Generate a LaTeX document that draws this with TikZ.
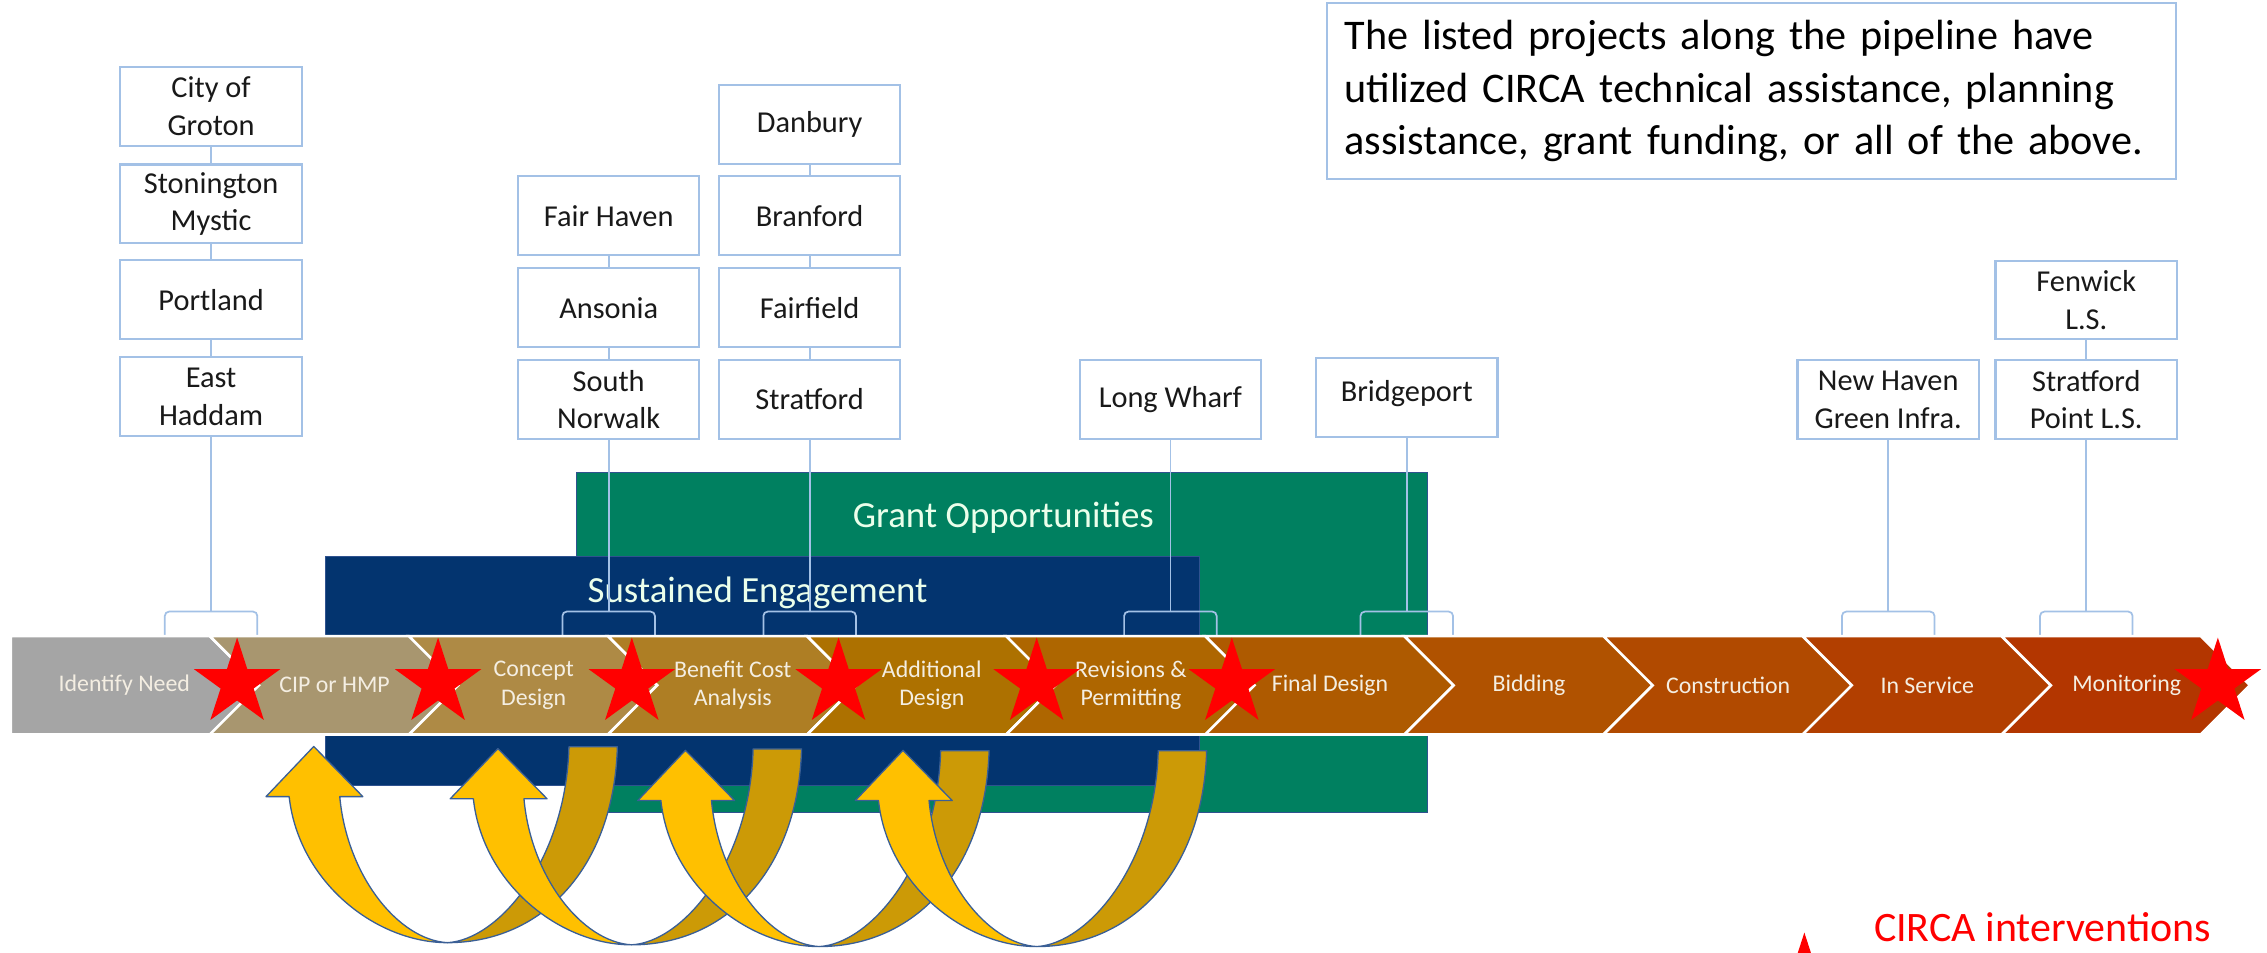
\documentclass[tikz,border=0pt]{standalone}
\usepackage{fontspec}
\setmainfont{Carlito}
\usetikzlibrary{calc}
\definecolor{boxline}{HTML}{A3C1E6}
\definecolor{grantgreen}{HTML}{008060}
\definecolor{navyband}{HTML}{03346F}
\definecolor{shapeline}{HTML}{2F528F}
\definecolor{ygold}{HTML}{FFC000}
\definecolor{dgold}{HTML}{CC9A06}
\definecolor{arrowline}{HTML}{3A5F96}
\definecolor{labelcream}{HTML}{F4EEE2}
\definecolor{starred}{HTML}{FF0000}
\definecolor{ch0}{HTML}{A5A5A5}
\definecolor{ch1}{HTML}{A8966F}
\definecolor{ch2}{HTML}{AE8A45}
\definecolor{ch3}{HTML}{AE7E24}
\definecolor{ch4}{HTML}{AD7100}
\definecolor{ch5}{HTML}{AE6600}
\definecolor{ch6}{HTML}{AE5A00}
\definecolor{ch7}{HTML}{B05200}
\definecolor{ch8}{HTML}{B14A00}
\definecolor{ch9}{HTML}{B23F00}
\definecolor{ch10}{HTML}{B33600}
\newcommand{\uturnarrow}[2]{%
  \begin{scope}[shift={(#1,#2)}]
    \filldraw[arrowedge, fill=dgold] (84,-135.5) -- (117.5,-135.5)
      .. controls (115.2,-52) and (65.5,0) .. (0,0)
      .. controls (35.5,-2) and (82,-57) .. (84,-135.5) -- cycle;
    \filldraw[arrowedge, fill=ygold] (0,0)
      .. controls (-49.5,0) and (-103,-42) .. (-109.5,-101)
      -- (-125.5,-101) -- (-92.5,-135.7) -- (-58.5,-101) -- (-74.5,-101)
      .. controls (-69.6,-47) and (-34.5,-2) .. (0,0) -- cycle;
  \end{scope}}
\begin{document}
\begin{tikzpicture}[x=1pt,y=-1pt,
  city/.style={draw=boxline, line width=1.5pt, fill=white, minimum width=125.5pt,
    minimum height=54.5pt, inner sep=0pt, align=center, text=black!90,
    font=\fontsize{21}{26}\selectfont},
  conn/.style={draw=boxline, line width=1.2pt},
  bracketline/.style={draw=boxline, line width=1.2pt, rounded corners=3pt},
  band/.style={draw=shapeline, line width=0.8pt},
  bandtext/.style={text=white!92!green, font=\fontsize{25.5}{30}\selectfont, inner sep=0pt},
  chevline/.style={draw=white, line width=1.8pt, line join=miter},
  chevtext/.style={text=labelcream, align=center, inner sep=0pt,
    font=\fontsize{16.5}{19.8}\selectfont},
  arrowedge/.style={draw=arrowline, line width=0.9pt, line join=round},
  redstar/.pic={\fill[starred] (270:31.5) -- (306:12) -- (342:31.5) -- (18:12)
    -- (54:31.5) -- (90:12) -- (126:31.5) -- (162:12) -- (198:31.5) -- (234:12) -- cycle;}
  ]
\useasboundingbox (0,0) rectangle (1568,658.5);
\fill[white] (0,0) rectangle (1568,658.5);

% background bands
\filldraw[band, fill=grantgreen] (399,327) rectangle (987.5,562);
\filldraw[band, fill=navyband] (225,385) rectangle (829.6,543.5);
\node[bandtext] (grant) at (694,358) {Grant Opportunities};
\node[bandtext] (sust) at (524,410) {Sustained Engagement};

% city boxes
\node[city] (groton) at (146,73.5) {City of\\Groton};
\node[city] (stonington) at (146,141) {Stonington\\Mystic};
\node[city] (portland) at (146,207.2) {Portland};
\node[city] (haddam) at (146,274.3) {East\\Haddam};
\node[city] (fairhaven) at (421,149.2) {Fair Haven};
\node[city] (ansonia) at (421,212.9) {Ansonia};
\node[city] (norwalk) at (421,276.4) {South\\Norwalk};
\node[city] (danbury) at (560,86) {Danbury};
\node[city] (branford) at (560,149.2) {Branford};
\node[city] (fairfield) at (560,212.9) {Fairfield};
\node[city] (stratford) at (560,276.2) {Stratford};
\node[city] (longwharf) at (809.5,276.4) {Long Wharf};
\node[city, text depth=9pt] (bridgeport) at (973,275.1) {Bridgeport};
\node[city] (newhaven) at (1306,276.4) {New Haven\\Green Infra.};
\node[city] (fenwick) at (1443,207.5) {Fenwick\\L.S.};
\node[city] (stratpoint) at (1443,276.4) {Stratford\\Point L.S.};

% info box
\node[draw=boxline, line width=1.5pt, minimum width=587.5pt, minimum height=122pt,
  inner xsep=12pt, text width=563pt, align=left,
  font=\fontsize{29.2}{36.5}\selectfont] (info) at (1211.5,63)
  {The listed projects along the pipeline have\\utilized CIRCA technical assistance, planning\\assistance, grant funding, or all of the above.};

% bracket coordinates
\coordinate (k1) at (146,423);
\coordinate (k2) at (421,423);
\coordinate (k3) at (560,423);
\coordinate (k4) at (809.5,423);
\coordinate (k5) at (973,423);
\coordinate (k6) at (1306,423);
\coordinate (k7) at (1443,423);

% connectors
\draw[conn] (groton.south) -- (stonington.north);
\draw[conn] (stonington.south) -- (portland.north);
\draw[conn] (portland.south) -- (haddam.north);
\draw[conn] (haddam.south) -- (k1);
\draw[conn] (fairhaven.south) -- (ansonia.north);
\draw[conn] (ansonia.south) -- (norwalk.north);
\draw[conn] (norwalk.south) -- (k2);
\draw[conn] (danbury.south) -- (branford.north);
\draw[conn] (branford.south) -- (fairfield.north);
\draw[conn] (fairfield.south) -- (stratford.north);
\draw[conn] (stratford.south) -- (k3);
\draw[conn] (longwharf.south) -- (k4);
\draw[conn] (bridgeport.south) -- (k5);
\draw[conn] (newhaven.south) -- (k6);
\draw[conn] (fenwick.south) -- (stratpoint.north);
\draw[conn] (stratpoint.south) -- (k7);
\foreach \k in {k1,k2,k3,k4,k5,k6,k7}
  \draw[bracketline] ($(\k)+(-32,16.5)$) -- ($(\k)+(-32,0)$) -- ($(\k)+(32,0)$) -- ($(\k)+(32,16.5)$);

% chevrons
\foreach \i in {0,...,10} {
  \pgfmathsetmacro{\xa}{7.5+137.7*\i}
  \pgfmathsetmacro{\xb}{\xa+137.7}
  \pgfmathsetmacro{\xc}{\xb+34}
  \pgfmathsetmacro{\xn}{\xa+34}
  \ifnum\i=0
    \filldraw[chevline, fill=ch\i] (\xa,440) -- (\xb,440) -- (\xc,474) -- (\xb,508) -- (\xa,508) -- cycle;
  \else
    \filldraw[chevline, fill=ch\i] (\xa,440) -- (\xb,440) -- (\xc,474) -- (\xb,508) -- (\xa,508) -- (\xn,474) -- cycle;
  \fi
}
\node[chevtext] (s0) at (86,474) {Identify Need};
\node[chevtext] (s1) at (231.4,474) {CIP or HMP};
\node[chevtext] (s2) at (369.1,474) {Concept\\Design};
\node[chevtext] (s3) at (506.8,474) {Benefit Cost\\Analysis};
\node[chevtext] (s4) at (644.5,474) {Additional\\Design};
\node[chevtext] (s5) at (782.2,474) {Revisions \&\\Permitting};
\node[chevtext] (s6) at (919.9,474) {Final Design};
\node[chevtext] (s7) at (1057.6,474) {Bidding};
\node[chevtext] (s8) at (1195.3,474) {Construction};
\node[chevtext] (s9) at (1333,474) {In Service};
\node[chevtext] (s10) at (1471,474) {Monitoring};

% stars
\foreach \sx in {164,303,437,580,717,852,1534}
  \pic at (\sx,472.5) {redstar};

% curved arrows
\uturnarrow{309.5}{652}
\uturnarrow{436.9}{653.5}
\uturnarrow{566.6}{654.7}
\uturnarrow{717.1}{654.7}

% legend
\pic at (1248,676.5) {redstar};
\node[anchor=base west, inner sep=0pt, text=starred, font=\fontsize{29}{34}\selectfont]
  (legend) at (1296,651) {CIRCA interventions};
\end{tikzpicture}
\end{document}
